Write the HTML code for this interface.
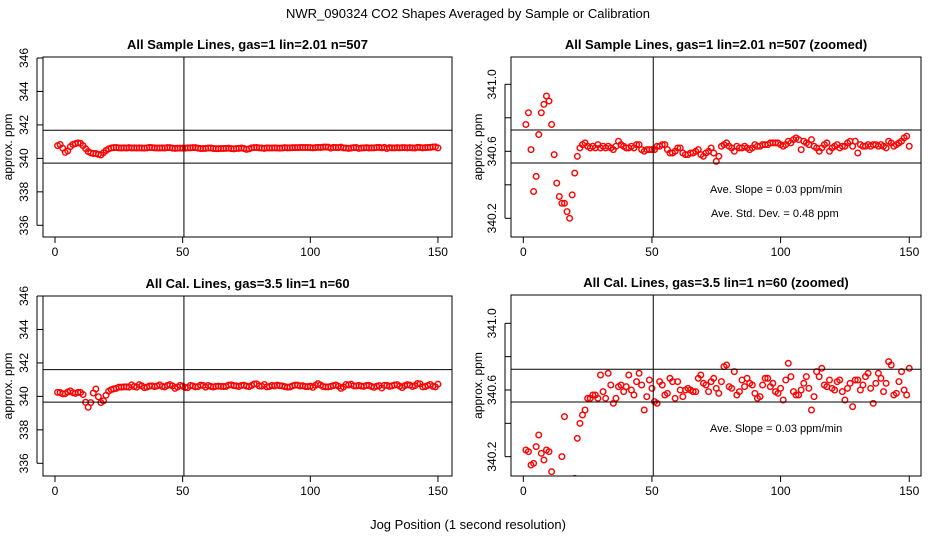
<!DOCTYPE html>
<html><head><meta charset="utf-8"><style>
html,body{margin:0;background:#fff;overflow:hidden;width:936px;height:540px}
svg{display:block;font-family:"Liberation Sans",sans-serif}
</style></head><body>
<svg id="c" width="936" height="540" viewBox="0 0 936 540">
<text x="468" y="18" text-anchor="middle" font-size="13">NWR_090324  CO2 Shapes Averaged by Sample or Calibration</text>
<text x="468" y="529" text-anchor="middle" font-size="13">Jog Position (1 second resolution)</text>
</svg>
<script>
const sampleValues=[340.76,340.83,340.61,340.36,340.45,340.70,340.83,340.88,340.93,340.90,340.76,340.58,340.41,340.33,340.29,340.29,340.24,340.20,340.34,340.47,340.57,340.62,
340.64,340.65,340.63,340.62,340.63,340.62,340.64,340.62,340.63,340.62,340.63,340.62,340.61,340.63,340.66,340.64,340.63,340.62,340.62,340.63,340.62,340.64,340.64,340.61,340.60,340.61,340.61,340.61,
340.61,340.63,340.63,340.64,340.64,340.61,340.59,340.59,340.60,340.62,340.62,340.59,340.58,340.58,340.59,340.59,340.60,340.61,340.58,340.57,340.59,340.60,340.62,340.59,340.54,340.57,340.63,340.64,340.65,340.63,
340.62,340.60,340.63,340.62,340.62,340.63,340.62,340.61,340.62,340.64,340.63,340.63,340.64,340.64,340.64,340.65,340.65,340.65,340.65,340.64,340.63,340.64,340.66,340.65,340.67,340.68,340.67,340.61,340.66,340.65,
340.64,340.67,340.63,340.62,340.60,340.62,340.64,340.65,340.60,340.62,340.63,340.64,340.62,340.63,340.63,340.65,340.66,340.63,340.66,340.59,340.64,340.63,340.63,340.64,340.63,340.64,340.64,340.63,340.64,340.63,
340.62,340.66,340.65,340.63,340.64,340.65,340.66,340.68,340.69,340.63];
const calValues=[340.24,340.23,340.15,340.16,340.26,340.33,340.22,340.18,340.24,340.23,340.11,339.65,339.35,339.63,340.20,340.44,339.98,339.63,339.73,340.07,
340.31,340.40,340.45,340.48,340.55,340.55,340.57,340.57,340.55,340.69,340.59,340.55,340.70,340.63,340.52,340.55,340.62,340.63,340.59,340.62,
340.69,340.60,340.57,340.65,340.70,340.63,340.48,340.56,340.66,340.61,340.53,340.52,340.65,340.63,340.57,340.58,340.67,340.65,340.55,340.65,
340.60,340.56,340.60,340.61,340.60,340.59,340.59,340.67,340.69,340.64,340.63,340.59,340.65,340.67,340.61,340.58,340.65,340.74,340.75,340.62,
340.61,340.71,340.57,340.59,340.66,340.62,340.67,340.64,340.63,340.58,340.55,340.56,340.63,340.67,340.67,340.62,340.64,340.59,340.58,340.61,
340.54,340.66,340.76,340.68,340.59,340.57,340.57,340.60,340.64,340.68,340.61,340.48,340.56,340.71,340.68,340.73,340.63,340.62,340.66,340.61,
340.60,340.65,340.66,340.59,340.54,340.61,340.64,340.50,340.66,340.66,340.60,340.63,340.68,340.70,340.61,340.52,340.64,340.70,340.67,340.59,
340.64,340.77,340.75,340.57,340.58,340.65,340.71,340.60,340.57,340.73];
const xTicks=[0,50,100,150];
const fullYTicks=[336,338,340,342,344,346];
const zoomYTicks=[340.2,340.4,340.6,340.8,341.0];
const zoomYLabels=[340.2,340.6,341.0];
const fullHLines=[341.68,339.72];
const zoomHLines=[340.727,340.53];
const vLine=[50.5];

const NS="http://www.w3.org/2000/svg";
const svg=document.getElementById('c');
function mk(t,a,p){const e=document.createElementNS(NS,t);for(const k in a)e.setAttribute(k,a[k]);(p||svg).appendChild(e);return e;}

function panel(id,title,box,xs,ys,data,yTicks,yLabels,hLines,notes,titleX){
  const g=mk('g',{});
  
  
  const X=v=>xs[0]+(v-xs[1])*xs[2];
  const Y=v=>ys[0]-(v-ys[1])*ys[2];
  const t=mk('text',{x:(box[0]+box[2])/2,y:box[1]-8,'text-anchor':'middle','font-size':13,'font-weight':'bold'},g);
  t.textContent=title;
  
  
  const cp=mk('clipPath',{id:'clip-'+id},g);
  mk('rect',{x:box[0],y:box[1],width:box[2]-box[0],height:box[3]-box[1]},cp);
  const pts=mk('g',{'clip-path':'url(#clip-'+id+')'},g);
  
  
  data.forEach((v,i)=>{
    const c=mk('circle',{cx:X(i+1),cy:Y(v),r:2.8,fill:'none',stroke:'#ff0000','stroke-width':1.4},pts);
    
    
  });
  hLines.forEach(v=>{
    const l=mk('line',{x1:box[0],x2:box[2],y1:Y(v),y2:Y(v),stroke:'#000','stroke-width':1},g);
    
    
  });
  vLine.forEach(v=>{
    const l=mk('line',{x1:X(v),x2:X(v),y1:box[1],y2:box[3],stroke:'#000','stroke-width':1},g);
    
    
  });
  const r=mk('rect',{x:box[0],y:box[1],width:box[2]-box[0],height:box[3]-box[1],fill:'none',stroke:'#000','stroke-width':1},g);
  
  
  xTicks.forEach(v=>{
    mk('line',{x1:X(v),x2:X(v),y1:box[3],y2:box[3]+6,stroke:'#000'},g);
    const tt=mk('text',{x:X(v),y:box[3]+19,'text-anchor':'middle','font-size':12},g);
    tt.textContent=v;
    
    
  });
  mk('line',{x1:box[0]-6,x2:box[0]-6,y1:Y(yTicks[0]),y2:Y(yTicks[yTicks.length-1]),stroke:'#000'},g);
  yTicks.forEach(v=>mk('line',{x1:box[0]-6,x2:box[0],y1:Y(v),y2:Y(v),stroke:'#000'},g));
  yLabels.forEach(v=>{
    const yy=Y(v);
    const lx=box[0]-15;
    const tt=mk('text',{x:lx,y:yy,'text-anchor':'middle','font-size':12,transform:'rotate(-90 '+lx+' '+yy+')'},g);
    tt.textContent=(yLabels===zoomYLabels)?v.toFixed(1):v;
    
    
  });
  const cy=(box[1]+box[3])/2;
  const yt=mk('text',{x:titleX,y:cy,'text-anchor':'middle','font-size':12,transform:'rotate(-90 '+titleX+' '+cy+')'},g);
  yt.textContent='approx. ppm';
  
  
  notes.forEach(n=>{
    const tt=mk('text',{x:n[0],y:n[1],'font-size':11},g);
    tt.textContent=n[2];
    
    
  });
}
panel('sample-full','All Sample Lines, gas=1 lin=2.01 n=507',[43,57,452,237],[55,0,2.553],[58,346,16.73],sampleValues,fullYTicks,fullYTicks,fullHLines,[],12);
panel('sample-zoom','All Sample Lines, gas=1 lin=2.01 n=507 (zoomed)',[511,57,921,237],[523.3,0,2.573],[84.3,341.0,167.5],sampleValues,zoomYTicks,zoomYLabels,zoomHLines,
 [[710,193,'Ave. Slope =  0.03  ppm/min'],[711,217,'Ave. Std. Dev. =  0.48  ppm']],482);
panel('cal-full','All Cal. Lines, gas=3.5 lin=1 n=60',[43,296,452,476],[55,0,2.553],[296,346,16.73],calValues,fullYTicks,fullYTicks,[341.6,339.66],[],12);
panel('cal-zoom','All Cal. Lines, gas=3.5 lin=1 n=60 (zoomed)',[511,295,921,476],[523.3,0,2.573],[323.3,341.0,166.7],calValues,zoomYTicks,zoomYLabels,[340.724,340.528],
 [[710,432,'Ave. Slope =  0.03  ppm/min']],482);
</script>
</body></html>
